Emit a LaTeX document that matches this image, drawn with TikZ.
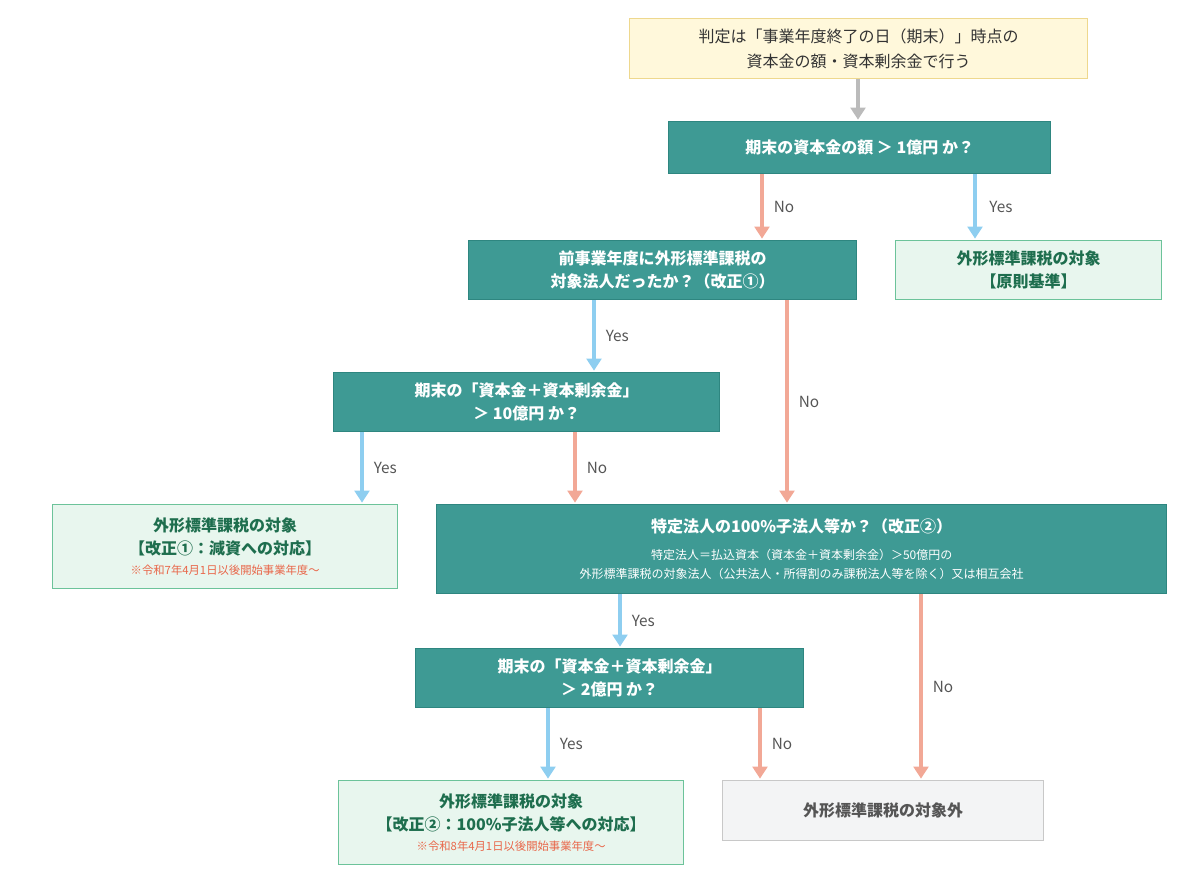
\documentclass[tikz,border=0pt]{standalone}
\usepackage{fontspec}
\setmainfont{Noto Sans CJK JP}
\usetikzlibrary{arrows.meta}
\definecolor{teal1}{HTML}{3E9A94}
\definecolor{tealb}{HTML}{2E8680}
\definecolor{ylw}{HTML}{FFF8DB}
\definecolor{ylwb}{HTML}{EED88E}
\definecolor{grn}{HTML}{E8F6EE}
\definecolor{grnb}{HTML}{6CC39A}
\definecolor{grnt}{HTML}{1E6E4E}
\definecolor{redt}{HTML}{E8674A}
\definecolor{gryf}{HTML}{F3F4F5}
\definecolor{gryb}{HTML}{C8C8C8}
\definecolor{gryt}{HTML}{555555}
\definecolor{blu}{HTML}{8ECEF0}
\definecolor{sal}{HTML}{F2A896}
\definecolor{arg}{HTML}{BBBBBB}
\newcommand{\smtxt}[1]{{\fontsize{9}{13}\selectfont\mdseries #1}}
\newcommand{\rdtxt}[1]{{\fontsize{8.5}{12}\selectfont\mdseries\color{redt}#1}}
\begin{document}
\begin{tikzpicture}[x=0.75pt,y=-0.75pt,
 box/.style={draw,line width=1pt,inner sep=0pt,anchor=north west,align=center},
 q/.style={box,fill=teal1,draw=tealb,text=white,font=\fontsize{12}{17}\selectfont\bfseries},
 res/.style={box,fill=grn,draw=grnb,text=grnt,font=\fontsize{12}{17}\selectfont\bfseries},
 ar/.style={line width=3pt,-{Triangle[width=11pt,length=9pt]}},
 yes/.style={ar,blu},no/.style={ar,sal},
 lab/.style={font=\fontsize{11.5}{13}\selectfont,text=gryt,anchor=west}]
\useasboundingbox (0,0) rectangle (1200,882);
\node[box,fill=ylw,draw=ylwb,text=black!80,font=\fontsize{12}{19}\selectfont,minimum width=458*0.75pt,minimum height=60*0.75pt] (n1) at (629,18) {判定は「事業年度終了の日（期末）」時点の\\資本金の額・資本剰余金で行う};
\node[q,minimum width=382*0.75pt,minimum height=52*0.75pt] (n2) at (668,121) {期末の資本金の額 ＞ 1億円 か？};
\node[q,minimum width=388*0.75pt,minimum height=59*0.75pt] (n3) at (468,240) {前事業年度に外形標準課税の\\対象法人だったか？（改正①）};
\node[res,minimum width=266*0.75pt,minimum height=59*0.75pt] (n4) at (895,240) {外形標準課税の対象\\【原則基準】};
\node[q,minimum width=386*0.75pt,minimum height=59*0.75pt] (n5) at (333,372) {期末の「資本金＋資本剰余金」\\＞ 10億円 か？};
\node[res,minimum width=345*0.75pt,minimum height=84*0.75pt] (n6) at (52,504) {外形標準課税の対象\\【改正①：減資への対応】\\[-2pt]\rdtxt{※令和7年4月1日以後開始事業年度～}};
\node[q,minimum width=730*0.75pt,minimum height=89*0.75pt] (n7) at (436,504) {特定法人の100\%子法人等か？（改正②）\\[3pt]\smtxt{特定法人＝払込資本（資本金＋資本剰余金）＞50億円の}\\[-3pt]\smtxt{外形標準課税の対象法人（公共法人・所得割のみ課税法人等を除く）又は相互会社}};
\node[q,minimum width=388*0.75pt,minimum height=59*0.75pt] (n8) at (415,648) {期末の「資本金＋資本剰余金」\\＞ 2億円 か？};
\node[res,minimum width=345*0.75pt,minimum height=84*0.75pt] (n9) at (338,780) {外形標準課税の対象\\【改正②：100\%子法人等への対応】\\[-2pt]\rdtxt{※令和8年4月1日以後開始事業年度～}};
\node[box,fill=gryf,draw=gryb,text=gryt,font=\fontsize{12}{17}\selectfont\bfseries,minimum width=321*0.75pt,minimum height=60*0.75pt] (n10) at (722,780) {外形標準課税の対象外};
\coordinate (xa) at (858,0);\coordinate (xb) at (762,0);\coordinate (xc) at (975,0);
\coordinate (xd) at (594,0);\coordinate (xe) at (787,0);\coordinate (xf) at (362,0);
\coordinate (xg) at (575,0);\coordinate (xh) at (620,0);\coordinate (xi) at (921,0);
\coordinate (xj) at (548,0);\coordinate (xk) at (760,0);
\draw[ar,arg] (n1.south -| xa) -- ([yshift=1pt]n2.north -| xa);
\draw[no] (n2.south -| xb) -- ([yshift=1pt]n3.north -| xb) node[lab,pos=0.5,xshift=4pt]{No};
\draw[yes] (n2.south -| xc) -- ([yshift=1pt]n4.north -| xc) node[lab,pos=0.5,xshift=6pt]{Yes};
\draw[yes] (n3.south -| xd) -- ([yshift=1pt]n5.north -| xd) node[lab,pos=0.5,xshift=4pt]{Yes};
\draw[no] (n3.south -| xe) -- ([yshift=1pt]n7.north -| xe) node[lab,pos=0.5,xshift=4pt]{No};
\draw[yes] (n5.south -| xf) -- ([yshift=1pt]n6.north -| xf) node[lab,pos=0.5,xshift=4pt]{Yes};
\draw[no] (n5.south -| xg) -- ([yshift=1pt]n7.north -| xg) node[lab,pos=0.5,xshift=4pt]{No};
\draw[yes] (n7.south -| xh) -- ([yshift=1pt]n8.north -| xh) node[lab,pos=0.5,xshift=4pt]{Yes};
\draw[no] (n7.south -| xi) -- ([yshift=1pt]n10.north -| xi) node[lab,pos=0.5,xshift=4pt]{No};
\draw[yes] (n8.south -| xj) -- ([yshift=1pt]n9.north -| xj) node[lab,pos=0.5,xshift=4pt]{Yes};
\draw[no] (n8.south -| xk) -- ([yshift=1pt]n10.north -| xk) node[lab,pos=0.5,xshift=4pt]{No};
\end{tikzpicture}
\end{document}
